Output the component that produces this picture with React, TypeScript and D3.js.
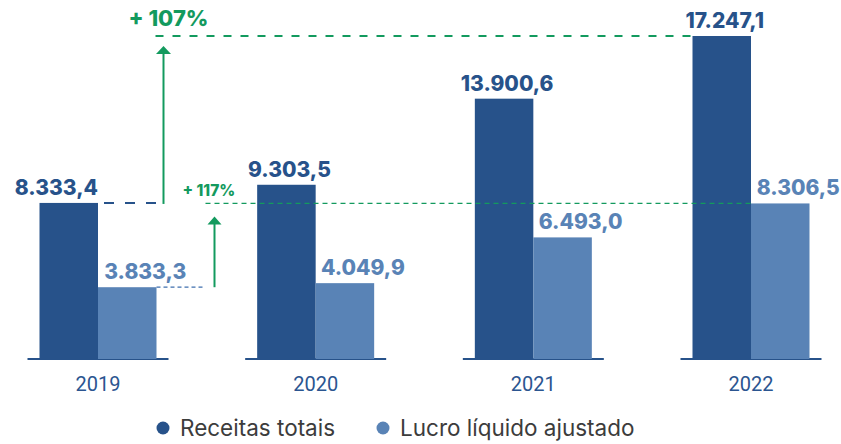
import React from "react";
import * as d3 from "d3";

const years = ["2019", "2020", "2021", "2022"];
const receitas = [8333.4, 9303.5, 13900.6, 17247.1];
const lucro = [3833.3, 4049.9, 6493.0, 8306.5];
const seriesNames = ["Receitas totais", "Lucro líquido ajustado"];
const growthLabels = ["+ 107%", "+ 117%"];

const DARK = "#27528a";
const LIGHT = "#5983b6";
const GREEN = "#139a5e";

const ptBR = d3.formatLocale({
  decimal: ",",
  thousands: ".",
  grouping: [3],
  currency: ["R$", ""],
});
const fmt = ptBR.format(",.1f");

const App = () => {
  const width = 841;
  const height = 444;
  const barW = 58.5;

  const x = d3.scalePoint().domain(years).range([98, 751]);
  const inner = d3
    .scaleBand()
    .domain(["r", "l"])
    .range([-barW, barW])
    .padding(0);
  const y = d3
    .scaleLinear()
    .domain([0, d3.max(receitas)])
    .range([359, 36]);

  const boldFont = "Inter, sans-serif";
  const xR1 = x(years[0]) + barW; // right edge of first group
  const yTop = y(d3.max(receitas));
  const yR0 = y(receitas[0]);
  const yL0 = y(lucro[0]);
  const yL3 = y(lucro[3]);

  return (
    <svg
      width={width}
      height={height}
      style={{ position: "absolute", left: 0, top: 0, background: "#fff" }}
    >
      {/* baselines per group */}
      {years.map(yr => (
        <line
          key={"b" + yr}
          x1={x(yr) - barW - 12}
          x2={x(yr) + barW + 12}
          y1={y(0)}
          y2={y(0)}
          stroke={DARK}
          strokeWidth={2}
        />
      ))}

      {/* bars */}
      {years.map((yr, i) => (
        <g key={"g" + yr}>
          <rect
            x={x(yr) + inner("r")}
            y={y(receitas[i])}
            width={inner.bandwidth()}
            height={y(0) - y(receitas[i])}
            fill={DARK}
          />
          <rect
            x={x(yr) + inner("l")}
            y={y(lucro[i])}
            width={inner.bandwidth()}
            height={y(0) - y(lucro[i])}
            fill={LIGHT}
          />
          <text
            x={i === 0 ? x(yr) : x(yr) + inner("r") + inner.bandwidth() / 2 + 3}
            y={y(receitas[i]) - 8}
            textAnchor={i === 0 ? "end" : "middle"}
            fill={DARK}
            fontFamily={boldFont}
            fontWeight={800}
            fontSize={21}
          >
            {fmt(receitas[i])}
          </text>
          <text
            x={x(yr) + inner("l") + inner.bandwidth() / 2 + 18}
            y={y(lucro[i]) - 8}
            textAnchor="middle"
            fill={LIGHT}
            fontFamily={boldFont}
            fontWeight={800}
            fontSize={21}
          >
            {fmt(lucro[i])}
          </text>
          <text
            x={x(yr)}
            y={391}
            textAnchor="middle"
            fill="#2b5590"
            fontFamily="Roboto, sans-serif"
            fontSize={20}
          >
            {yr}
          </text>
        </g>
      ))}

      {/* +107% annotation */}
      <line
        x1={xR1 - 1}
        x2={x(years[3]) - barW}
        y1={yTop}
        y2={yTop}
        stroke={GREEN}
        strokeWidth={2}
        strokeDasharray="8,9"
      />
      <text
        x={xR1 - 28}
        y={yTop - 10}
        fill={GREEN}
        fontFamily={boldFont}
        fontWeight={800}
        fontSize={22}
      >
        {growthLabels[0]}
      </text>
      <line
        x1={xR1 + 7}
        x2={xR1 + 7}
        y1={yR0 + 1}
        y2={yTop + 16}
        stroke={GREEN}
        strokeWidth={2}
      />
      <path
        d={`M${xR1 + 7},${yTop + 10} L${xR1 + 14.5},${yTop + 18} L${xR1 - 0.5},${yTop + 18} Z`}
        fill={GREEN}
      />
      <line
        x1={x(years[0]) + 6}
        x2={xR1 + 1}
        y1={yR0}
        y2={yR0}
        stroke={DARK}
        strokeWidth={2}
        strokeDasharray="10,11"
      />

      {/* +117% annotation */}
      <text
        x={xR1 + 26}
        y={yL3 - 7}
        fill={GREEN}
        fontFamily={boldFont}
        fontWeight={800}
        fontSize={15.5}
      >
        {growthLabels[1]}
      </text>
      <line
        x1={xR1 + 49}
        x2={x(years[3])}
        y1={yL3}
        y2={yL3}
        stroke={GREEN}
        strokeWidth={1.3}
        strokeDasharray="5,4"
      />
      <line
        x1={xR1 + 58}
        x2={xR1 + 58}
        y1={yL0}
        y2={yL3 + 20}
        stroke={GREEN}
        strokeWidth={2}
      />
      <path
        d={`M${xR1 + 58},${yL3 + 13} L${xR1 + 65},${yL3 + 21} L${xR1 + 51},${yL3 + 21} Z`}
        fill={GREEN}
      />
      <line
        x1={xR1}
        x2={xR1 + 49}
        y1={yL0}
        y2={yL0}
        stroke="#3f6fae"
        strokeWidth={1.3}
        strokeDasharray="4,3"
      />

      {/* legend */}
      <circle cx={163} cy={428} r={6.5} fill={DARK} />
      <text
        x={180}
        y={435.5}
        fill="#3c3c3c"
        fontFamily="Inter, sans-serif"
        fontSize={22.5}
      >
        {seriesNames[0]}
      </text>
      <circle cx={383} cy={428} r={6.5} fill={LIGHT} />
      <text
        x={400}
        y={435.5}
        fill="#3c3c3c"
        fontFamily="Inter, sans-serif"
        fontSize={22.5}
      >
        {seriesNames[1]}
      </text>
    </svg>
  );
};

export default App;
